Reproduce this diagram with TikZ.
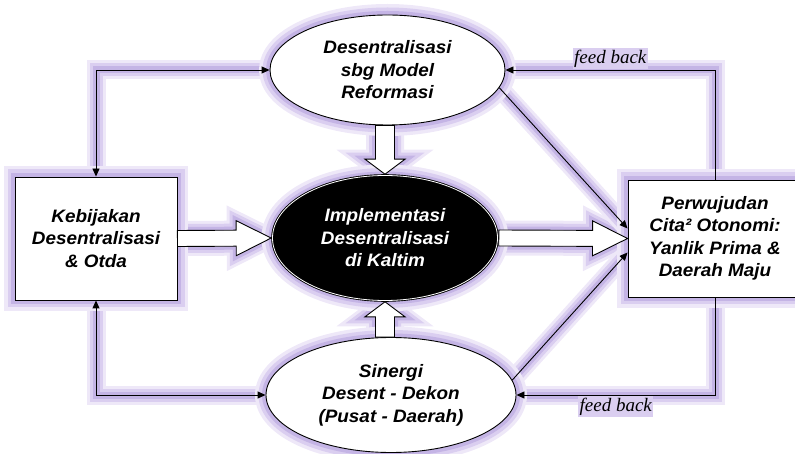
\documentclass[tikz,border=0pt]{standalone}
\usepackage{fontspec}
\setmainfont{Liberation Sans}[FakeStretch=1.05]
\newfontfamily\fbfont{Liberation Serif}
\usetikzlibrary{shapes.geometric, arrows.meta, calc, backgrounds}

\definecolor{glowA}{RGB}{238,232,248}
\definecolor{glowL}{RGB}{218,206,240}
\definecolor{glowD}{RGB}{196,180,229}

\tikzset{
  >={Triangle[length=8pt, width=7pt]},
  glow/.style={preaction={draw=glowA, line width=22pt},
               preaction={draw=glowL, line width=15pt},
               preaction={draw=glowD, line width=8pt}},
  teks/.style={align=center, font=\bfseries\itshape\fontsize{18}{22.5}\selectfont},
  kotak/.style={rectangle, draw, fill=white, line width=0.9pt, glow, teks},
  elips/.style={ellipse, draw, fill=white, line width=0.9pt, glow, teks, inner sep=0pt},
  garis/.style={line width=0.9pt},
  umpan/.style={font=\fbfont\itshape\fontsize{19}{22}\selectfont, fill=glowL, inner sep=1.5pt},
  % panah blok: #1 = setengah batang, #2 = setengah kepala, #3 = panjang kepala
  blok/.style n args={3}{draw, fill=white, line width=0.9pt, line join=miter,
    to path={($(\tikztostart)!#1!90:(\tikztotarget)$)
      -- ($(\tikztotarget)!#3!(\tikztostart)!#1!90:(\tikztotarget)$)
      -- ($(\tikztotarget)!#3!(\tikztostart)!#2!90:(\tikztotarget)$)
      -- (\tikztotarget)
      -- ($(\tikztotarget)!#3!(\tikztostart)!#2!-90:(\tikztotarget)$)
      -- ($(\tikztotarget)!#3!(\tikztostart)!#1!-90:(\tikztotarget)$)
      -- ($(\tikztostart)!#1!-90:(\tikztotarget)$) -- cycle}}
}

% garis penghubung: cahaya di lapisan belakang, garis hitam di atas
\newcommand\sambung[2]{%
  \begin{pgfonlayer}{background}
    \path[#1, draw=glowA, fill=none, line width=19pt, -] #2;
    \path[#1, draw=glowL, fill=none, line width=13pt, -] #2;
    \path[#1, draw=glowD, fill=none, line width=7pt, -] #2;
  \end{pgfonlayer}
  \draw[#1] #2;}

\begin{document}
\begin{tikzpicture}[x=1pt, y=-1pt]
\useasboundingbox (0,0) rectangle (795,454);

% simpul
\node[kotak, minimum width=162pt, minimum height=123pt] (kebijakan) at (96,238.5)
  {Kebijakan\\Desentralisasi\\\& Otda};
\node[elips, minimum width=235pt, minimum height=110pt] (reformasi) at (387.5,70)
  {Desentralisasi\\sbg Model\\Reformasi};
\node[elips, fill=black, text=white, line width=2.6pt,
  postaction={draw=white, line width=0.8pt},
  minimum width=225pt, minimum height=125pt] (impl) at (385,238)
  {Implementasi\\Desentralisasi\\di Kaltim};
\node[elips, minimum width=250pt, minimum height=115pt] (sinergi) at (391,395)
  {Sinergi\\Desent - Dekon\\(Pusat - Daerah)};
\node[kotak, minimum width=174pt, minimum height=117pt] (cita) at (715,238.5)
  {Perwujudan\\Cita² Otonomi:\\Yanlik Prima \&\\Daerah Maju};

% panah blok
\sambung{blok={8pt}{17.5pt}{35pt}}{(kebijakan.east) to (impl.west)}
\sambung{blok={8pt}{17.5pt}{35pt}}{(impl.east) to (cita.west)}
\sambung{blok={9.5pt}{20pt}{15pt}}{(impl.north |- reformasi.south) to (impl.north)}
\sambung{blok={9.5pt}{20pt}{15pt}}{(impl.south |- sinergi.north) to (impl.south)}

% panah tipis
\sambung{garis, <->}{(reformasi.west) -| (kebijakan.north)}
\sambung{garis, <->}{(kebijakan.south) |- (sinergi.west)}
\sambung{garis, ->}{(cita.north) |- (reformasi.east)}
\sambung{garis, ->}{(cita.south) |- (sinergi.east)}
\sambung{garis, ->}{(reformasi.-9) -- ($(cita.west)+(0,-10)$)}
\sambung{garis, ->}{(sinergi.7) -- ($(cita.west)+(0,14)$)}

% label umpan balik
\path (cita.north) |- node[umpan, pos=0.75, above=1pt] (fbatas) {feed back} (reformasi.east);
\path (cita.south) |- node[umpan, pos=0.75, below=1pt] (fbbawah) {feed back} (sinergi.east);
\end{tikzpicture}
\end{document}
